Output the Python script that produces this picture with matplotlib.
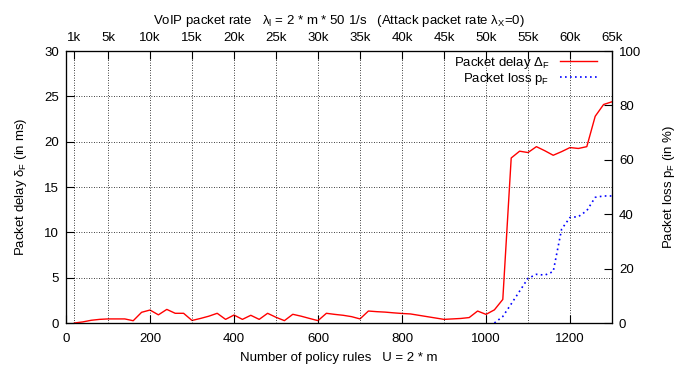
import matplotlib
matplotlib.use("Agg")
import matplotlib.pyplot as plt
from matplotlib.lines import Line2D

plt.rcParams["font.family"] = ["Liberation Sans", "DejaVu Sans"]
plt.rcParams["font.size"] = 9.5
plt.rcParams["mathtext.fontset"] = "custom"
plt.rcParams["mathtext.rm"] = "Liberation Sans"
plt.rcParams["mathtext.it"] = "Liberation Sans"
plt.rcParams["mathtext.sf"] = "Liberation Sans"

# =====================================================
# Data
# =====================================================
rules = [20, 40, 60, 80, 100, 120, 140, 160, 180, 200,
         220, 240, 260, 280, 300, 320, 340, 360, 380, 400,
         420, 440, 460, 480, 500, 520, 540, 560, 580, 600,
         620, 640, 660, 680, 700, 720, 740, 760, 780, 800,
         820, 840, 860, 880, 900, 920, 940, 960, 980, 1000,
         1020, 1040, 1060, 1080, 1100, 1120, 1140, 1160, 1180, 1200,
         1220, 1240, 1260, 1280, 1300]

delay_ms = [0.0, 0.12, 0.3, 0.4, 0.45, 0.45, 0.45, 0.25, 1.18, 1.43,
            0.9, 1.5, 1.07, 1.07, 0.28, 0.5, 0.75, 1.07, 0.4, 0.88,
            0.4, 0.85, 0.4, 1.07, 0.63, 0.26, 0.96, 0.75, 0.5, 0.26,
            1.07, 0.95, 0.85, 0.7, 0.45, 1.32, 1.25, 1.2, 1.12, 1.05,
            1.0, 0.85, 0.7, 0.55, 0.4, 0.45, 0.5, 0.6, 1.32, 0.95,
            1.45, 2.6, 18.2, 18.95, 18.8, 19.45, 19.0, 18.5, 18.9, 19.35,
            19.25, 19.45, 22.8, 24.1, 24.4]

loss_rules = [1020, 1040, 1060, 1080, 1100, 1120, 1140, 1160, 1180, 1200,
              1220, 1240, 1260, 1280, 1300]
loss_pct = [0.0, 2.4, 7.0, 11.7, 16.4, 17.9, 17.6, 18.9, 34.5, 38.8,
            39.1, 41.3, 46.2, 46.7, 46.7]

bottom_ticks = [0, 200, 400, 600, 800, 1000, 1200]
top_ticks = [20, 100, 200, 300, 400, 500, 600, 700, 800, 900, 1000, 1100, 1200, 1300]
top_labels = ["1k", "5k", "10k", "15k", "20k", "25k", "30k", "35k", "40k",
              "45k", "50k", "55k", "60k", "65k"]
left_ticks = [0, 5, 10, 15, 20, 25, 30]
right_ticks = [0, 20, 40, 60, 80, 100]

# =====================================================
# Figure
# =====================================================
fig = plt.figure(figsize=(6.82, 3.65), dpi=100)
ax = fig.add_axes([66 / 682, 42 / 365, 546 / 682, 272 / 365])
ax_r = ax.twinx()
ax_t = ax.twiny()

ax.plot(rules, delay_ms, color="#ff0000", lw=1.0, zorder=3)
ax_r.plot(loss_rules, loss_pct, color="#0000ff", lw=1.2, ls=(0, (1, 2)), zorder=3)

ax.set_xlim(0, 1300)
ax.set_ylim(0, 30)
ax_r.set_ylim(0, 100)
ax_t.set_xlim(0, 1300)

ax.set_xticks(bottom_ticks)
ax.set_yticks(left_ticks)
ax_r.set_yticks(right_ticks)
ax_t.set_xticks(top_ticks)
ax_t.set_xticklabels(top_labels)

for a in (ax, ax_r, ax_t):
    a.tick_params(direction="in", length=6, width=0.8, colors="black", pad=5)
ax.tick_params(axis="x", top=False, pad=7)
ax.tick_params(axis="y", right=False)

# grid: horizontal at left ticks, vertical at top ticks
ax.grid(axis="y", ls=(0, (1, 2)), color="black", lw=0.6)
ax_t.grid(axis="x", ls=(0, (1, 2)), color="black", lw=0.6)

ax.set_xlabel("Number of policy rules   U = 2 * m", labelpad=5)
ax.set_ylabel(r"Packet delay $\delta_F$ (in ms)", labelpad=11)
ax_r.set_ylabel(r"Packet loss $p_F$ (in %)", labelpad=14)
ax_t.set_xlabel(r"VoIP packet rate   $\lambda_l$ = 2 * m * 50 1/s   (Attack packet rate $\lambda_X$=0)",
                labelpad=6)

handles = [Line2D([], [], color="#ff0000", lw=1.0),
           Line2D([], [], color="#0000ff", lw=1.2, ls=(0, (1, 2)))]
ax_t.legend(handles, [r"Packet delay $\Delta_F$", r"Packet loss $p_F$"],
            loc="upper right", bbox_to_anchor=(0.9725, 0.985),
            frameon=False, markerfirst=False, borderpad=0.0,
            handlelength=2.8, borderaxespad=0.0, labelspacing=0.0, handletextpad=0.8)

fig.savefig("out.png", dpi=100)
